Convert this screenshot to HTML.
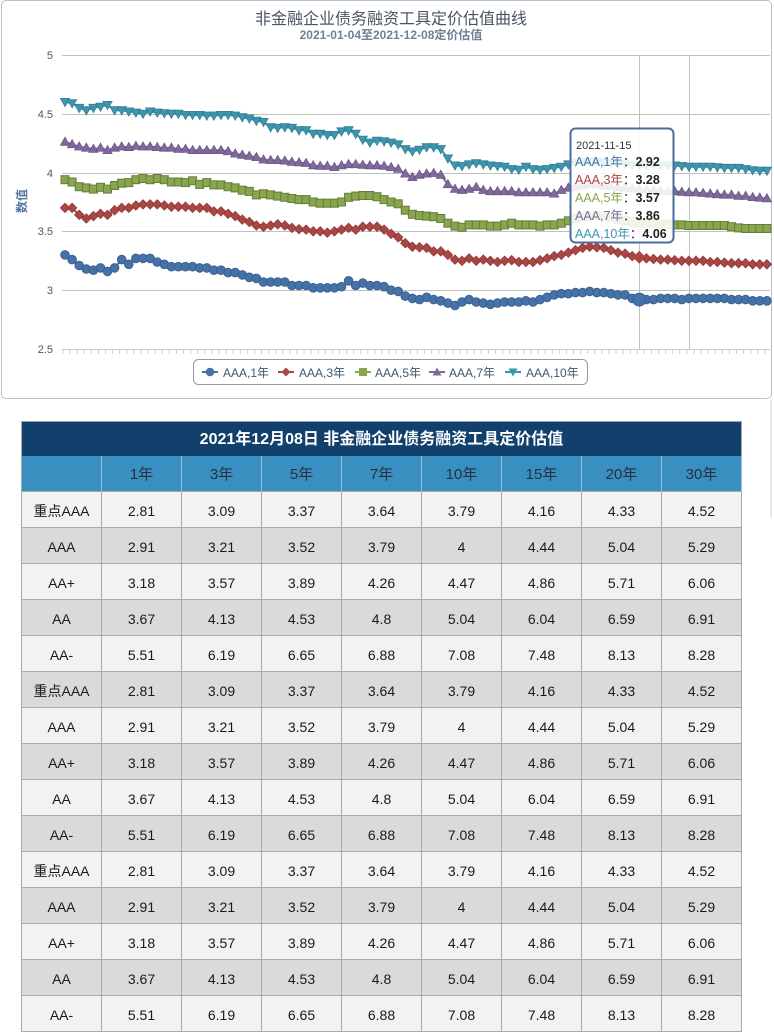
<!DOCTYPE html>
<html><head><meta charset="utf-8">
<style>
html,body{margin:0;padding:0;background:#fff;}
body{width:774px;height:1032px;overflow:hidden;position:relative;font-family:"Liberation Sans","Noto Sans CJK SC",sans-serif;}
#chartbox{position:absolute;left:1px;top:0;width:769px;height:397px;border:1px solid #b3c0cd;border-radius:5px;}
#chart{position:absolute;left:0;top:0;}
#tbl{position:absolute;left:21px;top:421px;width:720px;border-left:1px solid #a9a9a9;border-top:1px solid #9aa6b2;}
.ttl{height:34px;background:#10406b;color:#fff;font-weight:bold;font-size:16px;line-height:36px;text-align:center;border-right:1px solid #a9a9a9;}
.row{display:flex;height:36px;}
.c{box-sizing:border-box;width:80px;height:36px;border-right:1px solid #a9a9a9;border-bottom:1px solid #a9a9a9;text-align:center;line-height:38px;font-size:14px;color:#1a1a1a;}
.hd .c{background:#3a8fc1;color:#25323d;font-size:15px;border-right-color:#9fbcd0;border-bottom-color:#a9a9a9;}
.l .c{background:#f2f2f2;}
.d .c{background:#dadada;}
#sb{position:absolute;left:770px;top:400px;width:2px;height:117px;background:#e6e6e6;}
</style></head>
<body>
<div id="chartbox"></div>
<svg id="chart" width="774" height="400" xmlns="http://www.w3.org/2000/svg" font-family="Liberation Sans, Noto Sans CJK SC, sans-serif">
<defs>
<marker id="mc" markerWidth="14" markerHeight="14" refX="7" refY="7" markerUnits="userSpaceOnUse" overflow="visible"><circle cx="7" cy="7" r="4.3" fill="#4572A7" stroke="#3b6091" stroke-width="1"/></marker>
<marker id="md" markerWidth="14" markerHeight="14" refX="7" refY="7" markerUnits="userSpaceOnUse" overflow="visible"><polygon points="7,2.3 11.7,7 7,11.7 2.3,7" fill="#AA4643" stroke="#8f3a38" stroke-width="0.8"/></marker>
<marker id="ms" markerWidth="14" markerHeight="14" refX="7" refY="7" markerUnits="userSpaceOnUse" overflow="visible"><rect x="3" y="3" width="8" height="8" fill="#89A54E" stroke="#667d38" stroke-width="1"/></marker>
<marker id="mt" markerWidth="14" markerHeight="14" refX="7" refY="7" markerUnits="userSpaceOnUse" overflow="visible"><polygon points="7,2.2 11.6,10.3 2.4,10.3" fill="#80699B" stroke="#6c5886" stroke-width="0.8"/></marker>
<marker id="mv" markerWidth="14" markerHeight="14" refX="7" refY="7" markerUnits="userSpaceOnUse" overflow="visible"><polygon points="2.4,3.4 11.6,3.4 7,11.6" fill="#3D96AE" stroke="#357f93" stroke-width="0.8"/></marker>
<pattern id="tk" x="62.5" y="349" width="7.09" height="6" patternUnits="userSpaceOnUse"><rect x="0" y="0" width="1" height="6" fill="#C0D0E0"/></pattern>
</defs>

<text x="391" y="24" text-anchor="middle" font-size="16" fill="#4a5563">非金融企业债务融资工具定价估值曲线</text>
<text x="391" y="39" text-anchor="middle" font-size="12" font-weight="bold" fill="#6d8198">2021-01-04至2021-12-08定价估值</text>

<g stroke="#C0C0C0" stroke-width="1">
<line x1="62" y1="55.5" x2="770" y2="55.5"/>
<line x1="62" y1="114.5" x2="770" y2="114.5"/>
<line x1="62" y1="173.5" x2="770" y2="173.5"/>
<line x1="62" y1="231.5" x2="770" y2="231.5"/>
<line x1="62" y1="290.5" x2="770" y2="290.5"/>
<line x1="639.5" y1="55" x2="639.5" y2="349"/>
<line x1="689.5" y1="55" x2="689.5" y2="349"/>
</g>
<line x1="62" y1="349.5" x2="770" y2="349.5" stroke="#C0D0E0" stroke-width="1"/>
<rect x="62" y="349" width="708" height="5" fill="url(#tk)"/>

<g font-size="11" fill="#555" text-anchor="end">
<text x="53" y="59">5</text>
<text x="53" y="118">4.5</text>
<text x="53" y="177">4</text>
<text x="53" y="235">3.5</text>
<text x="53" y="294">3</text>
<text x="53" y="353">2.5</text>
</g>
<text transform="translate(26,201) rotate(-90)" text-anchor="middle" font-size="12" font-weight="bold" fill="#5474a0">数值</text>

<g fill="none" stroke-width="2">
<polyline stroke="#4572A7" marker-start="url(#mc)" marker-mid="url(#mc)" marker-end="url(#mc)" points="65,254.9 72.1,259.6 79.2,265.5 86.3,269 93.4,270.2 100.5,267.9 107.5,271.4 114.6,267.9 121.7,259.6 128.8,264.3 135.9,258.4 143,258.4 150.1,258.4 157.2,262 164.3,264.3 171.4,266.7 178.4,266.7 185.5,266.7 192.6,266.7 199.7,267.9 206.8,267.9 213.9,270.2 221,270.2 228.1,272.6 235.2,272.6 242.3,274.9 249.3,277.3 256.4,278.4 263.5,282 270.6,282 277.7,282 284.8,282 291.9,285.5 299,285.5 306.1,285.5 313.2,287.8 320.2,287.8 327.3,287.8 334.4,287.8 341.5,286.7 348.6,280.8 355.7,285.5 362.8,283.1 369.9,285.5 377,285.5 384.1,286.7 391.1,290.2 398.2,291.4 405.3,296.1 412.4,298.4 419.5,299.6 426.6,297.3 433.7,299.6 440.8,300.8 447.9,303.1 455,305.5 462,302 469.1,299.6 476.2,302 483.3,303.1 490.4,304.3 497.5,303.1 504.6,302 511.7,302 518.8,302 525.9,300.8 533,302 540,299.6 547.1,297.3 554.2,294.9 561.3,293.7 568.4,293.7 575.5,292.6 582.6,292.6 589.7,291.4 596.8,292.6 603.8,292.6 610.9,293.7 618,294.9 625.1,294.9 632.2,298.4 639.3,299.6 646.4,299.6 653.5,299.6 660.6,298.4 667.7,298.4 674.7,298.4 681.8,299.6 688.9,298.4 696,298.4 703.1,298.4 710.2,298.4 717.3,298.4 724.4,298.4 731.5,299.6 738.6,299.6 745.6,299.6 752.7,300.8 759.8,300.8 766.9,300.8"/>
<polyline stroke="#AA4643" marker-start="url(#md)" marker-mid="url(#md)" marker-end="url(#md)" points="65,207.9 72.1,207.9 79.2,214.9 86.3,218.5 93.4,216.1 100.5,213.8 107.5,214.9 114.6,210.2 121.7,207.9 128.8,207.9 135.9,205.5 143,204.4 150.1,204.4 157.2,204.4 164.3,205.5 171.4,206.7 178.4,206.7 185.5,206.7 192.6,207.9 199.7,207.9 206.8,207.9 213.9,211.4 221,211.4 228.1,213.8 235.2,216.1 242.3,219.6 249.3,222 256.4,225.5 263.5,226.7 270.6,225.5 277.7,224.3 284.8,225.5 291.9,227.9 299,229.1 306.1,229.6 313.2,231.4 320.2,231.4 327.3,232.6 334.4,231.4 341.5,229.6 348.6,227.9 355.7,229.6 362.8,226.7 369.9,226.7 377,226.7 384.1,229.6 391.1,233.8 398.2,237.3 405.3,243.2 412.4,246.7 419.5,247.3 426.6,247.9 433.7,251.4 440.8,251.4 447.9,254.9 455,259.6 462,260.8 469.1,258.4 476.2,260.8 483.3,259.6 490.4,260.8 497.5,262 504.6,260.8 511.7,260.2 518.8,262 525.9,262 533,262 540,260.2 547.1,258.4 554.2,256.1 561.3,254.9 568.4,252.6 575.5,250.2 582.6,247.9 589.7,246.7 596.8,247.3 603.8,247.9 610.9,250.2 618,252.6 625.1,253.7 632.2,256.1 639.3,257.3 646.4,258.4 653.5,259 660.6,259.6 667.7,259.6 674.7,260.2 681.8,260.8 688.9,260.8 696,260.8 703.1,260.8 710.2,262 717.3,262 724.4,262.6 731.5,263.2 738.6,263.2 745.6,263.2 752.7,264.3 759.8,264.3 766.9,264.3"/>
<polyline stroke="#89A54E" marker-start="url(#ms)" marker-mid="url(#ms)" marker-end="url(#ms)" points="65,179.7 72.1,182 79.2,186.7 86.3,187.9 93.4,189.1 100.5,187.3 107.5,189.1 114.6,185.5 121.7,183.2 128.8,182.6 135.9,179.7 143,178.5 150.1,179.7 157.2,178.5 164.3,179.7 171.4,182 178.4,182 185.5,182.6 192.6,180.8 199.7,184.4 206.8,182.6 213.9,184.9 221,184.9 228.1,186.7 235.2,187.9 242.3,190.2 249.3,191.4 256.4,194.9 263.5,193.8 270.6,194.9 277.7,196.1 284.8,197.3 291.9,198.5 299,199.6 306.1,199.6 313.2,202 320.2,203.2 327.3,203.2 334.4,203.2 341.5,202 348.6,197.3 355.7,196.1 362.8,195.5 369.9,195.5 377,196.7 384.1,199.6 391.1,202 398.2,203.8 405.3,210.2 412.4,214.3 419.5,215.5 426.6,216.1 433.7,216.7 440.8,218.5 447.9,223.2 455,226.1 462,227.3 469.1,224.9 476.2,224.9 483.3,224.9 490.4,226.1 497.5,226.1 504.6,224.9 511.7,223.2 518.8,224.9 525.9,224.9 533,224.9 540,226.1 547.1,224.9 554.2,224.9 561.3,223.2 568.4,220.8 575.5,218.5 582.6,216.7 589.7,216.1 596.8,215.5 603.8,216.1 610.9,217.3 618,219.6 625.1,220.8 632.2,222 639.3,223.2 646.4,223.2 653.5,223.2 660.6,223.8 667.7,224.3 674.7,224.9 681.8,224.9 688.9,225.5 696,225.5 703.1,225.5 710.2,225.5 717.3,225.5 724.4,225.5 731.5,226.7 738.6,227.9 745.6,228.5 752.7,228.5 759.8,228.5 766.9,228.5"/>
<polyline stroke="#80699B" marker-start="url(#mt)" marker-mid="url(#mt)" marker-end="url(#mt)" points="65,142 72.1,144.4 79.2,146.7 86.3,147.9 93.4,149.1 100.5,147.9 107.5,150.3 114.6,147.9 121.7,146.7 128.8,147.3 135.9,146.1 143,146.7 150.1,146.7 157.2,147.3 164.3,147.9 171.4,147.9 178.4,149.1 185.5,149.1 192.6,150.3 199.7,150.3 206.8,150.3 213.9,150.3 221,150.3 228.1,151.4 235.2,153.8 242.3,155 249.3,156.1 256.4,157.3 263.5,159.7 270.6,160.3 277.7,160.3 284.8,160.8 291.9,162 299,162.6 306.1,163.2 313.2,165.5 320.2,166.1 327.3,166.1 334.4,167.3 341.5,165.5 348.6,164.4 355.7,164.4 362.8,165 369.9,165.5 377,165.5 384.1,166.1 391.1,167.3 398.2,169.1 405.3,173.8 412.4,177.3 419.5,175 426.6,173.8 433.7,173.2 440.8,175 447.9,184.4 455,189.1 462,190.2 469.1,189.1 476.2,187.3 483.3,190.2 490.4,191.4 497.5,191.4 504.6,191.4 511.7,191.4 518.8,192.6 525.9,192.6 533,192.6 540,192.6 547.1,192.6 554.2,193.8 561.3,190.2 568.4,187.9 575.5,186.7 582.6,185.5 589.7,184.4 596.8,184.4 603.8,185.5 610.9,186.7 618,187.3 625.1,187.9 632.2,188.5 639.3,189.1 646.4,189.7 653.5,190.2 660.6,190.8 667.7,191.4 674.7,191.4 681.8,192 688.9,192.6 696,192.6 703.1,193.2 710.2,193.8 717.3,194.4 724.4,194.9 731.5,194.9 738.6,196.1 745.6,196.1 752.7,197.3 759.8,197.9 766.9,198.5"/>
<polyline stroke="#3D96AE" marker-start="url(#mv)" marker-mid="url(#mv)" marker-end="url(#mv)" points="65,102 72.1,103.2 79.2,107.9 86.3,110.3 93.4,107.9 100.5,106.7 107.5,105 114.6,110.3 121.7,110.3 128.8,111.5 135.9,112.6 143,113.8 150.1,111.5 157.2,112.6 164.3,113.2 171.4,113.8 178.4,113.8 185.5,115 192.6,115 199.7,115 206.8,115.6 213.9,115.6 221,115 228.1,115 235.2,115.6 242.3,117.3 249.3,118.5 256.4,120.8 263.5,122 270.6,127.3 277.7,127.9 284.8,127.3 291.9,127.9 299,130.3 306.1,130.3 313.2,133.8 320.2,133.8 327.3,135 334.4,135 341.5,131.4 348.6,130.3 355.7,133.8 362.8,139.7 369.9,142.6 377,140.8 384.1,141.4 391.1,142.6 398.2,144.4 405.3,149.1 412.4,151.4 419.5,149.7 426.6,147.3 433.7,147.3 440.8,149.1 447.9,158.5 455,165.5 462,166.1 469.1,164.4 476.2,163.2 483.3,164.4 490.4,165.5 497.5,166.1 504.6,166.7 511.7,169.1 518.8,169.7 525.9,166.7 533,169.1 540,169.7 547.1,169.1 554.2,167.9 561.3,166.7 568.4,164.4 575.5,163.2 582.6,162 589.7,162 596.8,162 603.8,162.6 610.9,163.2 618,163.8 625.1,164.4 632.2,165 639.3,165.5 646.4,165.5 653.5,165.5 660.6,165.5 667.7,165.5 674.7,165.5 681.8,166.1 688.9,166.7 696,166.7 703.1,166.7 710.2,166.7 717.3,167.3 724.4,167.9 731.5,167.9 738.6,167.9 745.6,169.1 752.7,170.2 759.8,170.8 766.9,170.8"/>
</g>
<circle cx="639.3" cy="299.6" r="6.5" fill="#4572A7" stroke="#3b6091" stroke-width="1"/>
<polygon points="639.3,250.8 645.8,257.3 639.3,263.8 632.8,257.3" fill="#AA4643"/>

<rect x="570.5" y="128.5" width="103" height="114" rx="5" ry="5" fill="#ffffff" fill-opacity="0.88" stroke="#4a6d9c" stroke-width="2"/>
<g font-size="12.5">
<text x="576" y="149" font-size="11" fill="#333">2021-11-15</text>
<text x="575" y="166"><tspan fill="#4572A7">AAA,1年</tspan><tspan fill="#333">：</tspan><tspan font-weight="bold" fill="#222">2.92</tspan></text>
<text x="575" y="184"><tspan fill="#AA4643">AAA,3年</tspan><tspan fill="#333">：</tspan><tspan font-weight="bold" fill="#222">3.28</tspan></text>
<text x="575" y="202"><tspan fill="#89A54E">AAA,5年</tspan><tspan fill="#333">：</tspan><tspan font-weight="bold" fill="#222">3.57</tspan></text>
<text x="575" y="220"><tspan fill="#80699B">AAA,7年</tspan><tspan fill="#333">：</tspan><tspan font-weight="bold" fill="#222">3.86</tspan></text>
<text x="575" y="238"><tspan fill="#3D96AE">AAA,10年</tspan><tspan fill="#333">：</tspan><tspan font-weight="bold" fill="#222">4.06</tspan></text>
</g>

<rect x="193.5" y="359.5" width="394" height="25" rx="5" ry="5" fill="#fff" stroke="#999" stroke-width="1"/>
<g stroke-width="2">
<line x1="202" y1="372" x2="218" y2="372" stroke="#4572A7"/>
<line x1="278" y1="372" x2="294" y2="372" stroke="#AA4643"/>
<line x1="355" y1="372" x2="371" y2="372" stroke="#89A54E"/>
<line x1="429" y1="372" x2="445" y2="372" stroke="#80699B"/>
<line x1="505" y1="372" x2="521" y2="372" stroke="#3D96AE"/>
</g>
<circle cx="210" cy="372" r="4.3" fill="#4572A7"/>
<polygon points="286,367.5 290.5,372 286,376.5 281.5,372" fill="#AA4643"/>
<rect x="359" y="368" width="8" height="8" fill="#89A54E"/>
<polygon points="437,367.5 441.5,375.5 432.5,375.5" fill="#80699B"/>
<polygon points="508.5,368.5 517.5,368.5 513,376.5" fill="#3D96AE"/>
<g font-size="12" fill="#3E576F">
<text x="223" y="377">AAA,1年</text>
<text x="299" y="377">AAA,3年</text>
<text x="375" y="377">AAA,5年</text>
<text x="449" y="377">AAA,7年</text>
<text x="526" y="377">AAA,10年</text>
</g>
</svg>

<div id="sb"></div>

<div id="tbl">
<div class="ttl">2021年12月08日 非金融企业债务融资工具定价估值</div>
<div class="row hd"><div class="c"></div><div class="c">1年</div><div class="c">3年</div><div class="c">5年</div><div class="c">7年</div><div class="c">10年</div><div class="c">15年</div><div class="c">20年</div><div class="c">30年</div></div>
<div class="row l"><div class="c">重点AAA</div><div class="c">2.81</div><div class="c">3.09</div><div class="c">3.37</div><div class="c">3.64</div><div class="c">3.79</div><div class="c">4.16</div><div class="c">4.33</div><div class="c">4.52</div></div>
<div class="row d"><div class="c">AAA</div><div class="c">2.91</div><div class="c">3.21</div><div class="c">3.52</div><div class="c">3.79</div><div class="c">4</div><div class="c">4.44</div><div class="c">5.04</div><div class="c">5.29</div></div>
<div class="row l"><div class="c">AA+</div><div class="c">3.18</div><div class="c">3.57</div><div class="c">3.89</div><div class="c">4.26</div><div class="c">4.47</div><div class="c">4.86</div><div class="c">5.71</div><div class="c">6.06</div></div>
<div class="row d"><div class="c">AA</div><div class="c">3.67</div><div class="c">4.13</div><div class="c">4.53</div><div class="c">4.8</div><div class="c">5.04</div><div class="c">6.04</div><div class="c">6.59</div><div class="c">6.91</div></div>
<div class="row l"><div class="c">AA-</div><div class="c">5.51</div><div class="c">6.19</div><div class="c">6.65</div><div class="c">6.88</div><div class="c">7.08</div><div class="c">7.48</div><div class="c">8.13</div><div class="c">8.28</div></div>
<div class="row d"><div class="c">重点AAA</div><div class="c">2.81</div><div class="c">3.09</div><div class="c">3.37</div><div class="c">3.64</div><div class="c">3.79</div><div class="c">4.16</div><div class="c">4.33</div><div class="c">4.52</div></div>
<div class="row l"><div class="c">AAA</div><div class="c">2.91</div><div class="c">3.21</div><div class="c">3.52</div><div class="c">3.79</div><div class="c">4</div><div class="c">4.44</div><div class="c">5.04</div><div class="c">5.29</div></div>
<div class="row d"><div class="c">AA+</div><div class="c">3.18</div><div class="c">3.57</div><div class="c">3.89</div><div class="c">4.26</div><div class="c">4.47</div><div class="c">4.86</div><div class="c">5.71</div><div class="c">6.06</div></div>
<div class="row l"><div class="c">AA</div><div class="c">3.67</div><div class="c">4.13</div><div class="c">4.53</div><div class="c">4.8</div><div class="c">5.04</div><div class="c">6.04</div><div class="c">6.59</div><div class="c">6.91</div></div>
<div class="row d"><div class="c">AA-</div><div class="c">5.51</div><div class="c">6.19</div><div class="c">6.65</div><div class="c">6.88</div><div class="c">7.08</div><div class="c">7.48</div><div class="c">8.13</div><div class="c">8.28</div></div>
<div class="row l"><div class="c">重点AAA</div><div class="c">2.81</div><div class="c">3.09</div><div class="c">3.37</div><div class="c">3.64</div><div class="c">3.79</div><div class="c">4.16</div><div class="c">4.33</div><div class="c">4.52</div></div>
<div class="row d"><div class="c">AAA</div><div class="c">2.91</div><div class="c">3.21</div><div class="c">3.52</div><div class="c">3.79</div><div class="c">4</div><div class="c">4.44</div><div class="c">5.04</div><div class="c">5.29</div></div>
<div class="row l"><div class="c">AA+</div><div class="c">3.18</div><div class="c">3.57</div><div class="c">3.89</div><div class="c">4.26</div><div class="c">4.47</div><div class="c">4.86</div><div class="c">5.71</div><div class="c">6.06</div></div>
<div class="row d"><div class="c">AA</div><div class="c">3.67</div><div class="c">4.13</div><div class="c">4.53</div><div class="c">4.8</div><div class="c">5.04</div><div class="c">6.04</div><div class="c">6.59</div><div class="c">6.91</div></div>
<div class="row l"><div class="c">AA-</div><div class="c">5.51</div><div class="c">6.19</div><div class="c">6.65</div><div class="c">6.88</div><div class="c">7.08</div><div class="c">7.48</div><div class="c">8.13</div><div class="c">8.28</div></div>
</div>
</body></html>
